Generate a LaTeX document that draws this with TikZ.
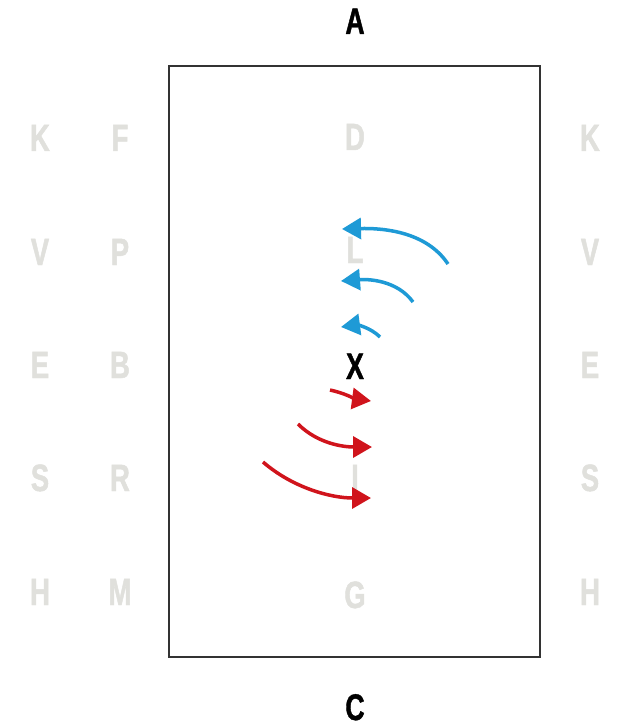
\documentclass[tikz,border=0pt]{standalone}
\usepackage{fontspec}
\setmainfont{Liberation Sans}
\newfontfamily\narrowsans[FakeStretch=0.72,FakeBold=1.2]{Liberation Sans}
\usetikzlibrary{arrows.meta}
\definecolor{faint}{HTML}{E0E0DC}
\definecolor{bluearr}{HTML}{1E9AD6}
\definecolor{redarr}{HTML}{D0141C}
\begin{document}
\begin{tikzpicture}[x=1pt,y=-1pt,
  lbl/.style={font=\narrowsans\bfseries\fontsize{38}{38}\selectfont, text=faint, inner sep=0pt, anchor=base},
  main/.style={font=\narrowsans\bfseries\fontsize{37}{37}\selectfont, text=black, inner sep=0pt, anchor=base},
  barr/.style={draw=bluearr, line width=3.5pt, -{Triangle[length=19pt,width=21pt]}},
  rarr/.style={draw=redarr, line width=3.5pt, -{Triangle[length=19pt,width=21pt]}}]
\useasboundingbox (0,0) rectangle (621,727);
\fill[white] (0,0) rectangle (621,727);
\node[draw=black!80, line width=1.5pt, minimum width=371pt, minimum height=591pt, inner sep=0pt] (arena) at (354.5,361.5) {};
\node[main] (A) at (355,34) {A};
\node[main] (C) at (355,720) {C};
% left outer column
\node[lbl] (K1) at (40,151) {K};
\node[lbl] (V1) at (40,265) {V};
\node[lbl] (E1) at (40,378) {E};
\node[lbl] (S1) at (40,491) {S};
\node[lbl] (H1) at (40,605) {H};
% left inner column
\node[lbl] (F) at (120,151) {F};
\node[lbl] (P) at (120,265) {P};
\node[lbl] (B) at (120,378) {B};
\node[lbl] (R) at (120,491) {R};
\node[lbl] (M) at (120,605) {M};
% centre line
\node[lbl] (D) at (355,150) {D};
\node[lbl] (L) at (355,263) {L};
\node[main] (X) at (355,379) {X};
\node[lbl] (I) at (355,491) {I};
\node[lbl] (G) at (355,608) {G};
% right column
\node[lbl] (K2) at (590,151) {K};
\node[lbl] (V2) at (590,265) {V};
\node[lbl] (E2) at (590,378) {E};
\node[lbl] (S2) at (590,491) {S};
\node[lbl] (H2) at (590,605) {H};
% arrows
\coordinate (b1s) at (448,264); \coordinate (b1e) at (342,229);
\coordinate (b2s) at (413,302); \coordinate (b2e) at (341,281);
\coordinate (b3s) at (380,337); \coordinate (b3e) at (341,327);
\coordinate (r1s) at (330,390); \coordinate (r1e) at (371,401);
\coordinate (r2s) at (298,424); \coordinate (r2e) at (372,447);
\coordinate (r3s) at (263,462); \coordinate (r3e) at (371,498);
\draw[barr] (b1s) .. controls (426,231) and (382,228) .. (b1e);
\draw[barr] (b2s) .. controls (397,280) and (368,279) .. (b2e);
\draw[barr] (b3s) .. controls (370,327) and (356,325) .. (b3e);
\draw[rarr] (r1s) .. controls (344,393) and (356,399) .. (r1e);
\draw[rarr] (r2s) .. controls (318,444) and (344,447) .. (r2e);
\draw[rarr] (r3s) .. controls (293,488) and (331,498) .. (r3e);
\end{tikzpicture}
\end{document}
